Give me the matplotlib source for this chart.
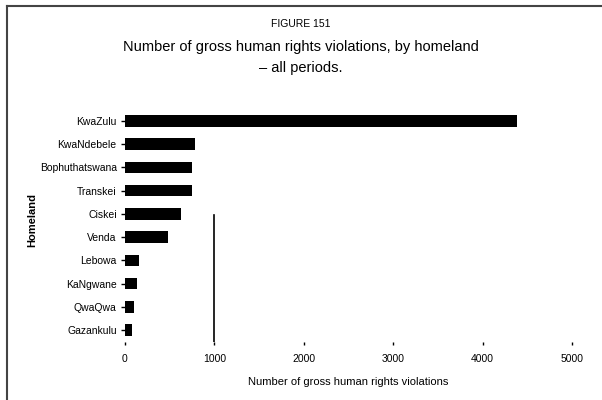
import matplotlib
matplotlib.use("Agg")
import matplotlib.pyplot as plt

plt.rcParams["font.family"] = ["Liberation Sans", "DejaVu Sans"]

# homelands, top to bottom
homelands = ["KwaZulu", "KwaNdebele", "Bophuthatswana", "Transkei", "Ciskei",
             "Venda", "Lebowa", "KaNgwane", "QwaQwa", "Gazankulu"]
violations = [4380, 780, 750, 750, 630, 485, 160, 130, 100, 75]
x_ticks = [0, 1000, 2000, 3000, 4000, 5000]

fig = plt.figure(figsize=(6.02, 4.0), dpi=100)
ax = fig.add_axes([0.2076, 0.146, 0.7425, 0.5805])

ypos = list(range(len(homelands)))
ax.barh(ypos, violations, height=0.5, color="black")
ax.set_ylim(len(homelands) - 0.5, -0.5)
ax.set_xlim(0, 5000)
ax.set_xticks(x_ticks)
ax.set_xticklabels([str(t) for t in x_ticks], fontsize=7.5)
ax.set_yticks(ypos)
ax.set_yticklabels(homelands, fontsize=7.5)
ax.tick_params(axis="x", length=2, width=1, pad=7)
ax.tick_params(axis="y", length=3, width=1, pad=3)
for s in ax.spines.values():
    s.set_visible(False)

# partial gridline left in the original
ax.axvline(1000, ymin=0, ymax=0.545, color="black", lw=1.2)

ax.set_xlabel("Number of gross human rights violations", fontsize=8, labelpad=9)
fig.text(0.054, 0.45, "Homeland", rotation=90, fontsize=8, fontweight="bold",
         ha="center", va="center")

fig.text(0.5, 0.94, "FIGURE 151", ha="center", va="center", fontsize=7.5)
fig.text(0.5, 0.883, "Number of gross human rights violations, by homeland",
         ha="center", va="center", fontsize=10.5)
fig.text(0.5, 0.83, "\u2013 all periods.", ha="center", va="center", fontsize=10.5)

# frame on left and top
fig.add_artist(plt.Line2D([0.011, 0.011], [0, 0.985], transform=fig.transFigure,
                          color="#444444", lw=1.5))
fig.add_artist(plt.Line2D([0.011, 1.0], [0.985, 0.985], transform=fig.transFigure,
                          color="#444444", lw=1.5))

fig.savefig("out.png", dpi=100)
